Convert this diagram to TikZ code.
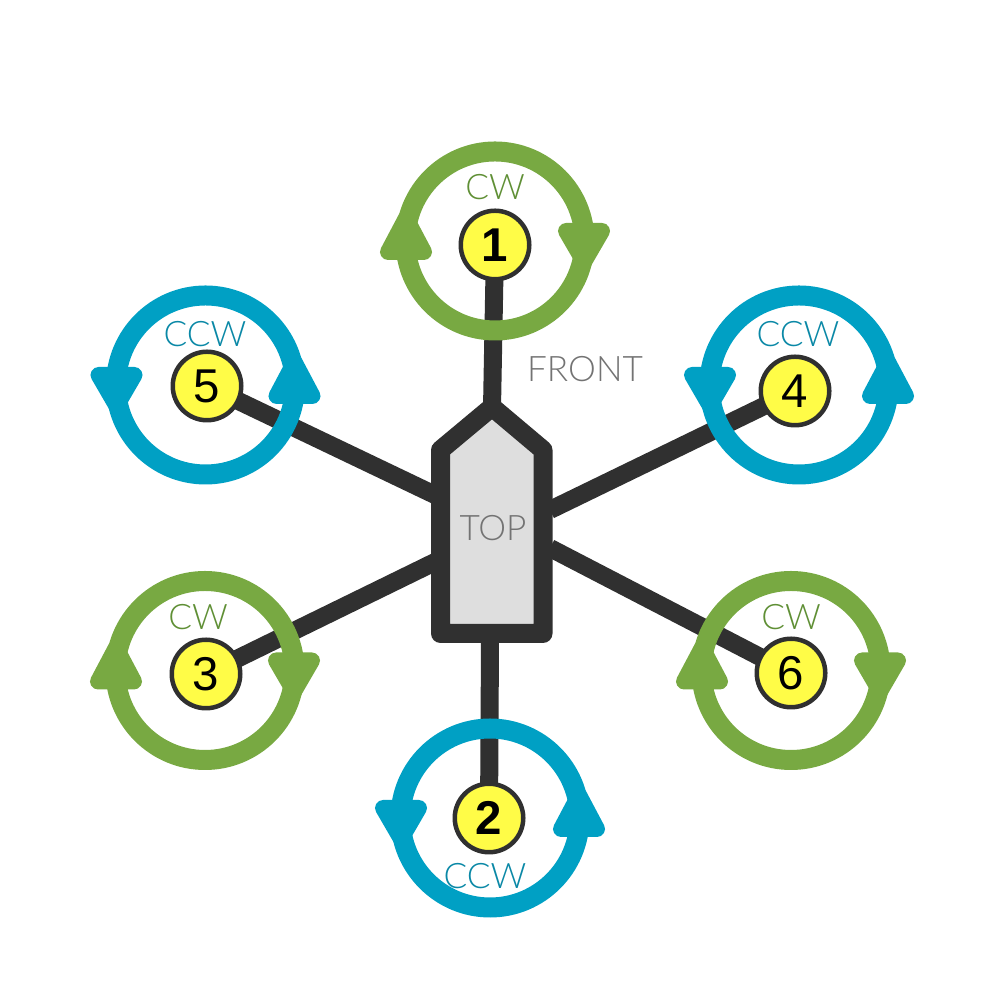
\documentclass[tikz,border=0pt]{standalone}
\usepackage{fontspec}
\setmainfont{Liberation Sans}
\newfontfamily\thinfont{Lato Light}
\usepackage{xcolor}
\usetikzlibrary{calc}
\usetikzlibrary{backgrounds}
\definecolor{armgray}{HTML}{303030}
\definecolor{motoryellow}{HTML}{FFFC47}
\definecolor{cwgreen}{HTML}{78A942}
\definecolor{ccwblue}{HTML}{00A0C4}
\definecolor{cwtext}{HTML}{5F8F35}
\definecolor{ccwtext}{HTML}{0A88A6}
\tikzset{
  arm/.style={draw=armgray, line width=1.8mm},
  body/.style={draw=armgray, fill=black!13, line width=1.9mm, line join=round},
  motor/.style={circle, draw=armgray, fill=motoryellow, line width=0.45mm, minimum size=6.85mm, inner sep=0pt, font=\fontsize{13.5}{13.5}\selectfont},
  ringcw/.style={circle, draw=cwgreen, line width=2mm, minimum size=17.9mm, inner sep=0pt, outer sep=0pt},
  ringccw/.style={circle, draw=ccwblue, line width=2mm, minimum size=17.9mm, inner sep=0pt, outer sep=0pt},
  tipcw/.style={draw=cwgreen, fill=cwgreen, line width=1.6mm, line join=round},
  tipccw/.style={draw=ccwblue, fill=ccwblue, line width=1.6mm, line join=round},
  cwlabel/.style={text=cwtext, font=\thinfont\fontsize{10}{10}\selectfont},
  ccwlabel/.style={text=ccwtext, font=\thinfont\fontsize{10}{10}\selectfont},
  graylabel/.style={text=black!55, font=\thinfont\fontsize{10}{10}\selectfont}
}
% arrow heads on a ring: style, ring name, side
\newcommand{\tipup}[3]{\draw[#1] ($(#2)+(#3*0.89-0.18,-0.11)$) -- ($(#2)+(#3*0.89+0.18,-0.11)$) -- ($(#2)+(#3*0.89,0.23)$) -- cycle;}
\newcommand{\tipdown}[3]{\draw[#1] ($(#2)+(#3*0.89-0.18,0.10)$) -- ($(#2)+(#3*0.89+0.18,0.10)$) -- ($(#2)+(#3*0.89,-0.21)$) -- cycle;}

\begin{document}
\begin{tikzpicture}
    \path[use as bounding box] (0, 0) rectangle (10, 10);

    \node[motor] at (4.95, 7.55) (M1) {\textbf{1}};
    \node[motor] at (4.89, 1.82) (M2) {\textbf{2}};
    \node[motor] at (2.06, 3.26) (M3) {3};
    \node[motor] at (7.95, 6.09) (M4) {4};
    \node[motor] at (2.07, 6.14) (M5) {5};
    \node[motor] at (7.91, 3.27) (M6) {6};

    % frame joints
    \coordinate (J1) at (4.92, 5.92);
    \coordinate (J2) at (4.90, 3.60);
    \coordinate (J3) at (4.35, 4.38);
    \coordinate (J4) at (5.50, 4.90);
    \coordinate (J5) at (4.35, 5.05);
    \coordinate (J6) at (5.50, 4.52);

    \begin{scope}[on background layer]
    \draw[arm] (M1.center) -- (J1);
    \draw[arm] (M2.center) -- (J2);
    \draw[arm] (M3.center) -- (J3);
    \draw[arm] (M4.center) -- (J4);
    \draw[arm] (M5.center) -- (J5);
    \draw[arm] (M6.center) -- (J6);

    \draw[body] (4.405, 3.665) -- (4.405, 5.50) -- (4.92, 5.93) -- (5.43, 5.50) -- (5.43, 3.665) -- cycle;

    \node[ringcw]  at (4.95, 7.59) (R1) {};
    \node[ringccw] at (4.90, 1.82) (R2) {};
    \node[ringcw]  at (2.05, 3.295) (R3) {};
    \node[ringccw] at (7.99, 6.15) (R4) {};
    \node[ringccw] at (2.055, 6.15) (R5) {};
    \node[ringcw]  at (7.91, 3.295) (R6) {};

    \tipup{tipcw}{R1}{-1}    \tipdown{tipcw}{R1}{1}
    \tipdown{tipccw}{R2}{-1} \tipup{tipccw}{R2}{1}
    \tipup{tipcw}{R3}{-1}    \tipdown{tipcw}{R3}{1}
    \tipdown{tipccw}{R4}{-1} \tipup{tipccw}{R4}{1}
    \tipdown{tipccw}{R5}{-1} \tipup{tipccw}{R5}{1}
    \tipup{tipcw}{R6}{-1}    \tipdown{tipcw}{R6}{1}
    \end{scope}

    \node[cwlabel]  at (4.95, 8.13) (L1) {CW};
    \node[ccwlabel] at (4.85, 1.24) (L2) {CCW};
    \node[cwlabel]  at (1.98, 3.83) (L3) {CW};
    \node[ccwlabel] at (7.98, 6.66) (L4) {CCW};
    \node[ccwlabel] at (2.05, 6.66) (L5) {CCW};
    \node[cwlabel]  at (7.91, 3.83) (L6) {CW};

    \node[graylabel] at (5.85, 6.31) (front) {FRONT};
    \node[graylabel] at (4.93, 4.72) (top) {TOP};
\end{tikzpicture}
\end{document}
